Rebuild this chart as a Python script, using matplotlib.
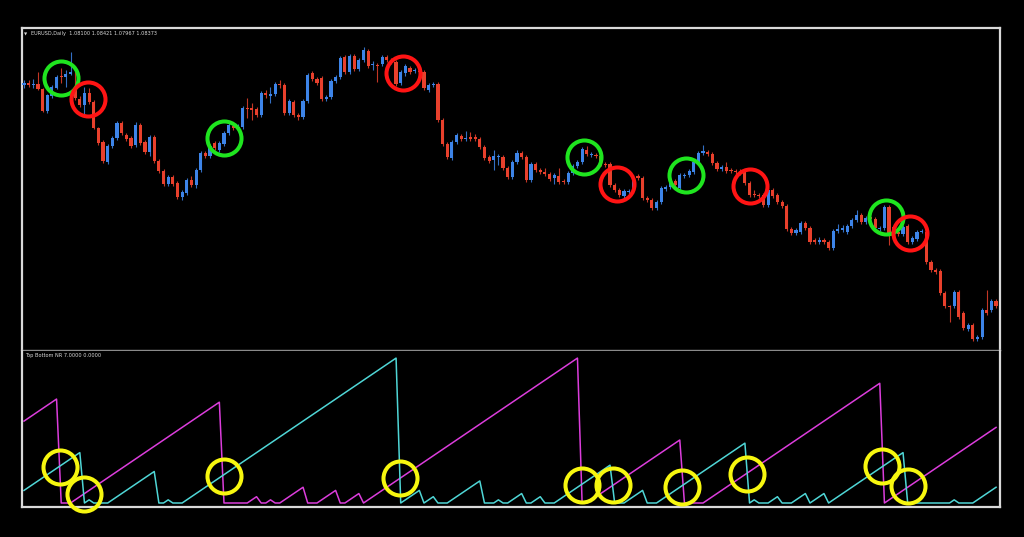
import numpy as np
import matplotlib
matplotlib.use("Agg")
import matplotlib.pyplot as plt

# EURUSD daily candles
opens = [
    1.1273, 1.1277, 1.1273, 1.1275, 1.1265, 1.1221, 1.1251, 1.1267, 1.1291, 1.1289,
    1.1295, 1.1267, 1.1245, 1.1233, 1.1257, 1.1239, 1.1187, 1.1159, 1.1119, 1.1151,
    1.1167, 1.1197, 1.1173, 1.1167, 1.1153, 1.1193, 1.1159, 1.1139, 1.1169, 1.1121,
    1.1101, 1.1075, 1.1089, 1.1077, 1.1049, 1.1057, 1.1083, 1.1073, 1.1103, 1.1137,
    1.1131, 1.1157, 1.1143, 1.1155, 1.1177, 1.1191, 1.1187, 1.1189, 1.1227, 1.1227,
    1.1225, 1.1213, 1.1257, 1.1251, 1.1255, 1.1275, 1.1273, 1.1217, 1.1239, 1.1213,
    1.1209, 1.1241, 1.1297, 1.1285, 1.1287, 1.1245, 1.1249, 1.1281, 1.1289, 1.1329,
    1.1299, 1.1331, 1.1305, 1.1323, 1.1341, 1.1313, 1.1313, 1.1315, 1.1329, 1.1323,
    1.1319, 1.1277, 1.1297, 1.1307, 1.1301, 1.1301, 1.1299, 1.1263, 1.1273, 1.1275,
    1.1203, 1.1155, 1.1127, 1.1159, 1.1171, 1.1165, 1.1169, 1.1169, 1.1165, 1.1149,
    1.1129, 1.1123, 1.1129, 1.1129, 1.1107, 1.1089, 1.1119, 1.1137, 1.1129, 1.1083,
    1.1115, 1.1103, 1.1099, 1.1095, 1.1087, 1.1091, 1.1081, 1.1079, 1.1097, 1.1111,
    1.1119, 1.1143, 1.1133, 1.1133, 1.1131, 1.1115, 1.1115, 1.1073, 1.1063, 1.1051,
    1.1059, 1.1061, 1.1091, 1.1087, 1.1047, 1.1043, 1.1027, 1.1039, 1.1065, 1.1069,
    1.1081, 1.1067, 1.1091, 1.1093, 1.1099, 1.1119, 1.1137, 1.1139, 1.1135, 1.1117,
    1.1105, 1.1109, 1.1103, 1.1101, 1.1101, 1.1099, 1.1077, 1.1055, 1.1053, 1.1053,
    1.1033, 1.1063, 1.1053, 1.1039, 1.1031, 1.0985, 1.0977, 1.0979, 1.0997, 1.0987,
    1.0963, 1.0959, 1.0963, 1.0959, 1.0947, 1.0981, 1.0983, 1.0979, 1.0991, 1.1003,
    1.1013, 1.0999, 1.1009, 1.1005, 1.0985, 1.0987, 1.1029, 1.0989, 1.0979, 1.0975,
    1.0991, 1.0959, 1.0965, 1.0979, 1.0979, 1.0919, 1.0903, 1.0901, 1.0857, 1.0831,
    1.0831, 1.0859, 1.0817, 1.0785, 1.0793, 1.0765, 1.0769, 1.0823, 1.0823, 1.0841,
]
highs = [
    1.1283, 1.1283, 1.1285, 1.1299, 1.1267, 1.1255, 1.1273, 1.1293, 1.1307, 1.1303,
    1.1339, 1.1301, 1.1251, 1.1269, 1.1267, 1.1243, 1.1189, 1.1163, 1.1155, 1.1171,
    1.1201, 1.1201, 1.1177, 1.1171, 1.1199, 1.1197, 1.1163, 1.1173, 1.1173, 1.1125,
    1.1105, 1.1093, 1.1093, 1.1081, 1.1063, 1.1087, 1.1091, 1.1107, 1.1141, 1.1141,
    1.1155, 1.1161, 1.1161, 1.1181, 1.1197, 1.1199, 1.1195, 1.1231, 1.1247, 1.1237,
    1.1229, 1.1261, 1.1263, 1.1269, 1.1279, 1.1283, 1.1277, 1.1245, 1.1243, 1.1217,
    1.1245, 1.1297, 1.1301, 1.1289, 1.1291, 1.1253, 1.1285, 1.1293, 1.1331, 1.1333,
    1.1335, 1.1335, 1.1327, 1.1349, 1.1345, 1.1321, 1.1317, 1.1333, 1.1333, 1.1327,
    1.1323, 1.1303, 1.1315, 1.1311, 1.1307, 1.1305, 1.1303, 1.1277, 1.1279, 1.1279,
    1.1207, 1.1159, 1.1163, 1.1177, 1.1175, 1.1181, 1.1179, 1.1175, 1.1169, 1.1153,
    1.1133, 1.1143, 1.1135, 1.1133, 1.1111, 1.1123, 1.1143, 1.1141, 1.1133, 1.1119,
    1.1119, 1.1107, 1.1107, 1.1099, 1.1097, 1.1107, 1.1085, 1.1101, 1.1115, 1.1123,
    1.1149, 1.1151, 1.1139, 1.1137, 1.1135, 1.1119, 1.1119, 1.1077, 1.1067, 1.1065,
    1.1065, 1.1093, 1.1095, 1.1091, 1.1051, 1.1047, 1.1043, 1.1071, 1.1073, 1.1085,
    1.1085, 1.1097, 1.1097, 1.1105, 1.1123, 1.1141, 1.1153, 1.1143, 1.1139, 1.1121,
    1.1113, 1.1119, 1.1107, 1.1105, 1.1105, 1.1103, 1.1081, 1.1063, 1.1057, 1.1057,
    1.1067, 1.1067, 1.1057, 1.1043, 1.1035, 1.0989, 1.0987, 1.1001, 1.1001, 1.0991,
    1.0967, 1.0969, 1.0967, 1.0963, 1.0985, 1.0995, 1.0993, 1.0995, 1.1007, 1.1023,
    1.1017, 1.1011, 1.1013, 1.1009, 1.0991, 1.1033, 1.1033, 1.0993, 1.0983, 1.0993,
    1.0995, 1.0971, 1.0983, 1.0985, 1.0983, 1.0923, 1.0907, 1.0905, 1.0861, 1.0833,
    1.0863, 1.0863, 1.0821, 1.0797, 1.0797, 1.0773, 1.0827, 1.0863, 1.0845, 1.0845,
]
lows = [
    1.1267, 1.1269, 1.1267, 1.1263, 1.1219, 1.1217, 1.1247, 1.1265, 1.1277, 1.1269,
    1.1293, 1.1243, 1.1229, 1.1215, 1.1235, 1.1185, 1.1153, 1.1117, 1.1115, 1.1147,
    1.1163, 1.1173, 1.1161, 1.1147, 1.1149, 1.1153, 1.1135, 1.1131, 1.1117, 1.1097,
    1.1071, 1.1071, 1.1071, 1.1045, 1.1043, 1.1053, 1.1069, 1.1067, 1.1099, 1.1127,
    1.1127, 1.1143, 1.1139, 1.1151, 1.1173, 1.1183, 1.1181, 1.1185, 1.1207, 1.1203,
    1.1209, 1.1209, 1.1247, 1.1237, 1.1251, 1.1267, 1.1213, 1.1213, 1.1209, 1.1203,
    1.1205, 1.1237, 1.1281, 1.1273, 1.1241, 1.1241, 1.1245, 1.1277, 1.1285, 1.1295,
    1.1295, 1.1301, 1.1301, 1.1319, 1.1307, 1.1303, 1.1279, 1.1311, 1.1319, 1.1315,
    1.1271, 1.1273, 1.1291, 1.1295, 1.1297, 1.1295, 1.1263, 1.1259, 1.1269, 1.1199,
    1.1151, 1.1125, 1.1123, 1.1155, 1.1161, 1.1161, 1.1161, 1.1161, 1.1145, 1.1123,
    1.1117, 1.1103, 1.1113, 1.1103, 1.1085, 1.1085, 1.1115, 1.1125, 1.1079, 1.1079,
    1.1099, 1.1095, 1.1091, 1.1081, 1.1075, 1.1075, 1.1075, 1.1075, 1.1093, 1.1107,
    1.1115, 1.1131, 1.1129, 1.1127, 1.1111, 1.1109, 1.1069, 1.1059, 1.1049, 1.1047,
    1.1055, 1.1057, 1.1083, 1.1043, 1.1039, 1.1023, 1.1023, 1.1035, 1.1061, 1.1065,
    1.1069, 1.1063, 1.1087, 1.1089, 1.1095, 1.1115, 1.1133, 1.1131, 1.1113, 1.1101,
    1.1101, 1.1097, 1.1097, 1.1095, 1.1093, 1.1073, 1.1049, 1.1049, 1.1047, 1.1029,
    1.1029, 1.1047, 1.1035, 1.1027, 1.0981, 1.0973, 1.0973, 1.0975, 1.0983, 1.0955,
    1.0955, 1.0955, 1.0955, 1.0943, 1.0943, 1.0977, 1.0979, 1.0975, 1.0987, 1.0999,
    1.0995, 1.0995, 1.1001, 1.0983, 1.0981, 1.0983, 1.0953, 1.0971, 1.0971, 1.0971,
    1.0955, 1.0955, 1.0961, 1.0977, 1.0915, 1.0899, 1.0895, 1.0853, 1.0827, 1.0799,
    1.0827, 1.0805, 1.0783, 1.0781, 1.0761, 1.0761, 1.0765, 1.0813, 1.0819, 1.0827,
]
closes = [
    1.1277, 1.1273, 1.1275, 1.1265, 1.1221, 1.1253, 1.1269, 1.1289, 1.1289, 1.1295,
    1.1299, 1.1247, 1.1233, 1.1257, 1.1239, 1.1187, 1.1157, 1.1121, 1.1151, 1.1167,
    1.1197, 1.1177, 1.1165, 1.1151, 1.1193, 1.1157, 1.1139, 1.1169, 1.1121, 1.1101,
    1.1075, 1.1089, 1.1075, 1.1049, 1.1059, 1.1083, 1.1073, 1.1103, 1.1137, 1.1131,
    1.1151, 1.1147, 1.1157, 1.1177, 1.1193, 1.1187, 1.1189, 1.1227, 1.1225, 1.1223,
    1.1213, 1.1257, 1.1253, 1.1255, 1.1275, 1.1273, 1.1217, 1.1241, 1.1213, 1.1209,
    1.1241, 1.1293, 1.1285, 1.1277, 1.1245, 1.1249, 1.1281, 1.1289, 1.1327, 1.1299,
    1.1331, 1.1305, 1.1323, 1.1343, 1.1311, 1.1315, 1.1311, 1.1329, 1.1323, 1.1319,
    1.1275, 1.1299, 1.1311, 1.1299, 1.1303, 1.1299, 1.1267, 1.1273, 1.1275, 1.1203,
    1.1155, 1.1129, 1.1159, 1.1173, 1.1165, 1.1167, 1.1165, 1.1165, 1.1149, 1.1127,
    1.1121, 1.1131, 1.1131, 1.1107, 1.1089, 1.1119, 1.1137, 1.1129, 1.1083, 1.1115,
    1.1103, 1.1099, 1.1095, 1.1085, 1.1093, 1.1079, 1.1079, 1.1097, 1.1111, 1.1119,
    1.1145, 1.1135, 1.1135, 1.1131, 1.1115, 1.1113, 1.1073, 1.1063, 1.1053, 1.1061,
    1.1061, 1.1089, 1.1087, 1.1047, 1.1043, 1.1027, 1.1039, 1.1067, 1.1069, 1.1081,
    1.1073, 1.1093, 1.1093, 1.1101, 1.1119, 1.1137, 1.1141, 1.1135, 1.1117, 1.1105,
    1.1109, 1.1101, 1.1101, 1.1099, 1.1097, 1.1077, 1.1053, 1.1053, 1.1051, 1.1033,
    1.1063, 1.1051, 1.1039, 1.1031, 1.0985, 1.0977, 1.0983, 1.0997, 1.0987, 1.0959,
    1.0959, 1.0963, 1.0959, 1.0947, 1.0981, 1.0985, 1.0987, 1.0991, 1.1003, 1.1013,
    1.0999, 1.1007, 1.1005, 1.0987, 1.0987, 1.1029, 1.0973, 1.0975, 1.0975, 1.0989,
    1.0959, 1.0967, 1.0979, 1.0981, 1.0919, 1.0903, 1.0899, 1.0857, 1.0831, 1.0829,
    1.0859, 1.0809, 1.0787, 1.0793, 1.0765, 1.0769, 1.0823, 1.0817, 1.0841, 1.0831,
]

# "Top Bottom NR" indicator buffers (bars since last bottom / top)
nr_cyan = [
    4, 5, 6, 7, 8, 9, 10, 11, 12, 13, 14, 15, 16, 0, 1, 0, 0, 0, 0, 1,
    2, 3, 4, 5, 6, 7, 8, 9, 10, 0, 0, 1, 0, 0, 0, 1, 2, 3, 4, 5,
    6, 7, 8, 9, 10, 11, 12, 13, 14, 15, 16, 17, 18, 19, 20, 21, 22, 23, 24, 25,
    26, 27, 28, 29, 30, 31, 32, 33, 34, 35, 36, 37, 38, 39, 40, 41, 42, 43, 44, 45,
    46, 0, 1, 2, 3, 4, 0, 1, 2, 0, 0, 0, 1, 2, 3, 4, 5, 6, 7, 0,
    0, 0, 1, 0, 0, 1, 2, 3, 0, 0, 1, 2, 0, 0, 0, 1, 2, 3, 4, 5,
    6, 7, 8, 9, 10, 11, 12, 0, 0, 0, 1, 2, 3, 4, 0, 0, 0, 1, 2, 3,
    4, 5, 6, 7, 8, 9, 10, 11, 12, 13, 14, 15, 16, 17, 18, 19, 0, 1, 0, 0,
    0, 1, 2, 0, 0, 0, 1, 2, 3, 0, 1, 2, 3, 0, 1, 2, 3, 4, 5, 6,
    7, 8, 9, 10, 11, 12, 13, 14, 15, 16, 0, 0, 0, 0, 0, 0, 0, 0, 0, 0,
    1, 0, 0, 0, 0, 1, 2, 3, 4, 5,
]
nr_magenta = [
    26, 27, 28, 29, 30, 31, 32, 33, 0, 0, 0, 1, 2, 3, 4, 5, 6, 7, 8, 9,
    10, 11, 12, 13, 14, 15, 16, 17, 18, 19, 20, 21, 22, 23, 24, 25, 26, 27, 28, 29,
    30, 31, 32, 0, 0, 0, 0, 0, 0, 1, 2, 0, 0, 1, 0, 0, 1, 2, 3, 4,
    5, 0, 0, 0, 1, 2, 3, 4, 0, 0, 1, 2, 3, 0, 1, 2, 3, 4, 5, 6,
    7, 8, 9, 10, 11, 12, 13, 14, 15, 16, 17, 18, 19, 20, 21, 22, 23, 24, 25, 26,
    27, 28, 29, 30, 31, 32, 33, 34, 35, 36, 37, 38, 39, 40, 41, 42, 43, 44, 45, 46,
    0, 0, 1, 2, 3, 4, 5, 6, 7, 8, 9, 10, 11, 12, 13, 14, 15, 16, 17, 18,
    19, 20, 0, 0, 0, 0, 0, 1, 2, 3, 4, 5, 6, 7, 8, 9, 10, 11, 12, 13,
    14, 15, 16, 17, 18, 19, 20, 21, 22, 23, 24, 25, 26, 27, 28, 29, 30, 31, 32, 33,
    34, 35, 36, 37, 38, 0, 1, 2, 3, 4, 5, 6, 7, 8, 9, 10, 11, 12, 13, 14,
    15, 16, 17, 18, 19, 20, 21, 22, 23, 24,
]

# hand-drawn annotation circles: bar index + price / indicator value
green_bars = [8.0, 43.0, 120.5, 142.3, 185.3]
green_prices = [1.1287, 1.1168, 1.1130, 1.1094, 1.1010]
red_bars = [13.7, 81.5, 127.4, 156.1, 190.5]
red_prices = [1.1246, 1.1298, 1.1075, 1.1072, 1.0977]
yellow_bars = [7.7, 12.8, 42.9, 80.8, 119.9, 126.7, 141.4, 155.5, 184.5, 190.0]
yellow_values = [11.5, 2.9, 8.6, 7.8, 5.7, 5.7, 5.2, 9.1, 11.8, 5.4]

header = "EURUSD,Daily  1.08100 1.08421 1.07967 1.08373"
sub_header = "Top Bottom NR 7.0000 0.0000"

BULL = "#3d84e8"
BEAR = "#e8402c"
FRAME = "#d9d9d9"


def style_pane(ax):
    ax.set_facecolor("black")
    ax.set_xticks([])
    ax.set_yticks([])
    for s in ax.spines.values():
        s.set_color(FRAME)
        s.set_linewidth(1.6)


fig = plt.figure(figsize=(10.24, 5.37), dpi=100, facecolor="black")
ax = fig.add_axes([22 / 1024, 187 / 537, 978 / 1024, 322 / 537])
ax2 = fig.add_axes([22 / 1024, 30 / 537, 978 / 1024, 156 / 537])
style_pane(ax)
style_pane(ax2)
ax.spines["bottom"].set_color("#8a8a8a")
ax.spines["bottom"].set_linewidth(1.0)
ax2.spines["top"].set_visible(False)

# candles
o = np.array(opens)
h = np.array(highs)
l = np.array(lows)
c = np.array(closes)
x = np.arange(len(o))
cols = np.where(c >= o, BULL, BEAR)
ax.vlines(x, l, h, colors=cols, linewidth=0.8, alpha=0.85, zorder=2)
body = np.maximum(np.abs(c - o), 0.00025)
ax.bar(x, body, bottom=np.minimum(o, c), width=0.68, color=cols, linewidth=0, zorder=3)
ax.set_xlim(-0.43, 209.85)
ax.set_ylim(1.0743, 1.1387)

ax.plot(green_bars, green_prices, "o", ms=24.5, mfc="none", mec="#1fe51f", mew=2.9,
        clip_on=False, zorder=10)
ax.plot(red_bars, red_prices, "o", ms=24.5, mfc="none", mec="#ff1414", mew=2.9,
        clip_on=False, zorder=10)

# indicator window
ax2.plot(x, nr_magenta, color="#dc3ddc", linewidth=1.1, zorder=3)
ax2.plot(x, nr_cyan, color="#4fd6d6", linewidth=1.1, zorder=3)
ax2.set_xlim(-0.43, 209.85)
ax2.set_ylim(-1.27, 48.25)
ax2.plot(yellow_bars, yellow_values, "o", ms=24.5, mfc="none", mec="#f7f70f", mew=2.9,
         clip_on=False, zorder=10)

fig.text(26 / 1024, 1 - 34 / 537, "\u25bc", fontsize=3, color=FRAME, va="center", ha="center")
fig.text(31 / 1024, 1 - 34 / 537, header, fontsize=3.6, color=FRAME, va="center")
fig.text(25 / 1024, 1 - 355.5 / 537, sub_header, fontsize=3.6, color=FRAME, va="center")

fig.savefig("out.png", dpi=100, facecolor="black")
